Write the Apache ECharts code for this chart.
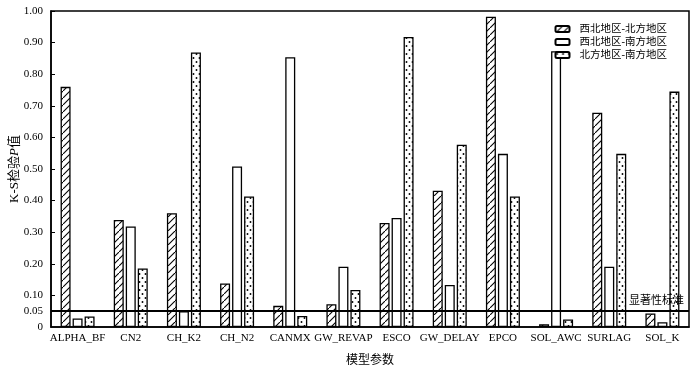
<!DOCTYPE html>
<html><head><meta charset="utf-8">
<script src="https://cdn.jsdelivr.net/npm/echarts@6/dist/echarts.min.js"></script>
<style>html,body{margin:0;padding:0;background:#fff}#c{width:700px;height:366px}</style>
</head><body><div id="c"></div>
<script>
const categories = ['ALPHA_BF','CN2','CH_K2','CH_N2','CANMX','GW_REVAP','ESCO','GW_DELAY','EPCO','SOL_AWC','SURLAG','SOL_K'];
const seriesNames = ['西北地区-北方地区','西北地区-南方地区','北方地区-南方地区'];
const nwNorth = [0.76,0.339,0.36,0.138,0.067,0.072,0.329,0.431,0.982,0.009,0.678,0.043];
const nwSouth = [0.027,0.318,0.05,0.508,0.854,0.191,0.345,0.133,0.548,0.873,0.191,0.015];
const northSouth = [0.033,0.185,0.869,0.413,0.035,0.117,0.918,0.577,0.413,0.024,0.548,0.745];
const yLabelValues = [0,0.05,0.1,0.2,0.3,0.4,0.5,0.6,0.7,0.8,0.9,1.0];
const yTickValues = [0.1,0.2,0.3,0.4,0.5,0.6,0.7,0.8,0.9,1.0];
const threshold = 0.05;
const thresholdLabel = '显著性标准';

function hatch(){
  const c=document.createElement('canvas');c.width=7;c.height=7;
  const g=c.getContext('2d');g.fillStyle='#fff';g.fillRect(0,0,7,7);
  g.strokeStyle='#000';g.lineWidth=1.1;
  g.beginPath();g.moveTo(-1,8);g.lineTo(8,-1);g.stroke();
  return c;
}
function dots(){
  const c=document.createElement('canvas');c.width=6;c.height=8;
  const g=c.getContext('2d');g.fillStyle='#fff';g.fillRect(0,0,6,8);
  g.fillStyle='#000';
  g.beginPath();g.arc(1.5,2,0.95,0,Math.PI*2);g.fill();
  g.beginPath();g.arc(4.5,6,0.95,0,Math.PI*2);g.fill();
  return c;
}
const serif = "'Liberation Serif','Times New Roman','Noto Sans CJK SC',serif";
const chart = echarts.init(document.getElementById('c'));
const fills = [{image:hatch(),repeat:'repeat'}, '#fff', {image:dots(),repeat:'repeat'}];
const datas = [nwNorth, nwSouth, northSouth];
const series = datas.map((d,i)=>({
  name: seriesNames[i], type:'bar', data:d, barWidth:10, barGap:'20%',
  itemStyle:{color:fills[i], borderColor:'#000', borderWidth:1.3},
  emphasis:{disabled:true},
  markLine: i===0 ? {
    silent:true, symbol:['none','none'],
    lineStyle:{color:'#000', width:2, type:'solid'},
    label:{show:true, position:'insideEndTop', formatter:thresholdLabel, color:'#000', fontSize:11, fontFamily:serif, distance:[5,5]},
    data:[{yAxis:threshold}]
  } : undefined
}));
chart.setOption({
  animation:false,
  grid:{left:51, right:11, top:11, bottom:39, show:true, borderColor:'#000', borderWidth:1.5, outerBoundsMode:'none', containLabel:false},
  legend:{
    orient:'vertical', right:28, top:18, itemGap:1, itemWidth:14, itemHeight:6,
    textStyle:{fontSize:10.5, color:'#000', fontFamily:serif, lineHeight:12, padding:[0,0,0,5]},
    data: seriesNames
  },
  xAxis:{
    type:'category', data:categories,
    name:'模型参数', nameLocation:'middle', nameGap:28,
    nameTextStyle:{fontSize:12, color:'#000', fontFamily:serif},
    axisLine:{lineStyle:{color:'#000', width:1.5}},
    axisTick:{inside:true, alignWithLabel:true, length:4, lineStyle:{color:'#000'}},
    axisLabel:{fontSize:11, color:'#000', fontFamily:serif, margin:6, interval:0}
  },
  yAxis:{
    type:'value', min:0, max:1,
    name:'{a|K-S检验}{b|P}{a|值}', nameLocation:'middle', nameRotate:90, nameGap:30, nameMoveOverlap:false,
    nameTextStyle:{rich:{a:{fontSize:13, color:'#000', fontFamily:serif}, b:{fontSize:13, color:'#000', fontFamily:serif, fontStyle:'italic'}}},
    axisLine:{show:true, lineStyle:{color:'#000', width:1.5}},
    axisTick:{show:true, inside:true, length:4, customValues:yTickValues, lineStyle:{color:'#000'}},
    axisLabel:{customValues:yLabelValues, fontSize:11, color:'#000', fontFamily:serif, margin:8,
      formatter:v=> v===0 ? '0' : v.toFixed(2)},
    splitLine:{show:false}
  },
  series: series
});
</script></body></html>
